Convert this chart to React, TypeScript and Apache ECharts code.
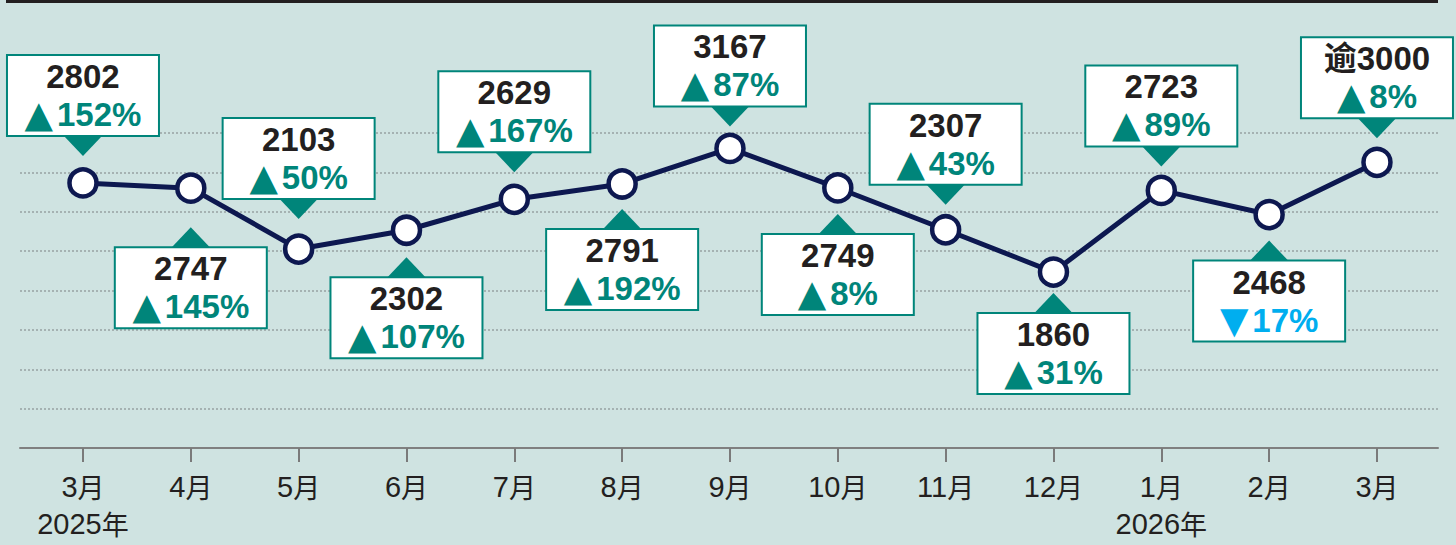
import React, { useEffect, useRef } from "react";
import * as echarts from "echarts";

const months = ["3月", "4月", "5月", "6月", "7月", "8月", "9月", "10月", "11月", "12月", "1月", "2月", "3月"];
const years = ["2025年", "", "", "", "", "", "", "", "", "", "2026年", "", ""];
const values = [2802, 2747, 2103, 2302, 2629, 2791, 3167, 2749, 2307, 1860, 2723, 2468, 3020];
const valueLabels = ["2802", "2747", "2103", "2302", "2629", "2791", "3167", "2749", "2307", "1860", "2723", "2468", "逾3000"];
const changes = [152, 145, 50, 107, 167, 192, 87, 8, 43, 31, 89, -17, 8];
// layout: distance from point centre to pointer tip
const labelGap = [27, 39, 30, 27, 27, 25, 22, 26, 25, 21, 24, 26, 24];

const TEAL = "#00857a";
const BLUE = "#00aeef";
const NAVY = "#0d1850";
const INK = "#231f20";
const BG = "#cfe3e1";

export default function App() {
  const ref = useRef<HTMLDivElement>(null);
  useEffect(() => {
    if (!ref.current) return;
    const chart = echarts.init(ref.current, null, { renderer: "svg" });
    const pts = values.map((v, i) => [i, v]);
    const tickVals = months.map((_, i) => i);
    chart.setOption({
      animation: false,
      backgroundColor: BG,
      grid: { left: 20, right: 18, top: 133, bottom: 97, containLabel: false },
      graphic: [
        { type: "rect", shape: { x: 6, y: 0, width: 1432, height: 3 }, style: { fill: INK } },
      ],
      xAxis: {
        type: "value",
        min: -0.584,
        max: 12.566,
        splitLine: { show: false },
        axisLine: { show: true, lineStyle: { color: "#808080", width: 2 } },
        axisTick: { show: true, customValues: tickVals, length: 14, lineStyle: { color: "#7a7a7a", width: 2 } },
        axisLabel: {
          customValues: tickVals,
          margin: 20,
          formatter: (val: number) => {
            const i = Math.round(val);
            const m = months[i].replace(/(\d+)(\D+)/, "{d|$1}{c|$2}");
            const y = years[i] ? "\n" + years[i].replace(/(\d+)(\D+)/, "{d|$1}{c|$2}") : "";
            return m + y;
          },
          rich: {
            d: { fontFamily: "'Liberation Sans Narrow', 'Liberation Sans'", fontSize: 29, color: INK, lineHeight: 37 },
            c: { fontFamily: "'Noto Sans CJK SC'", fontSize: 27, color: INK, lineHeight: 37 },
          },
        },
      },
      yAxis: [
        {
          type: "value",
          min: 0,
          max: 8,
          interval: 1,
          axisLine: { show: false },
          axisTick: { show: false },
          axisLabel: { show: false },
          splitLine: { show: true, lineStyle: { color: "#98a2a2", width: 1.5, type: [2, 2] } },
        },
        {
          type: "value",
          min: 0,
          max: 3330,
          axisLine: { show: false },
          axisTick: { show: false },
          axisLabel: { show: false },
          splitLine: { show: false },
        },
      ],
      series: [
        {
          type: "line",
          xAxisIndex: 0,
          yAxisIndex: 1,
          data: pts,
          z: 2,
          symbol: "circle",
          symbolSize: 27,
          lineStyle: { color: NAVY, width: 5 },
          itemStyle: { color: "#ffffff", borderColor: NAVY, borderWidth: 4.5 },
        },
        {
          type: "custom",
          xAxisIndex: 0,
          yAxisIndex: 1,
          data: pts,
          z: 5,
          encode: { x: 0, y: 1 },
          renderItem: (params: any, api: any) => {
            const i = params.dataIndex;
            const p = api.coord([api.value(0), api.value(1)]);
            const above = i % 2 === 0;
            const gap = labelGap[i];
            const triH = 19;
            const half = 19;
            const outerH = 83;
            let apex: number, base: number, outerTop: number, triBase: number;
            if (above) {
              apex = p[1] - gap;
              base = apex - triH;
              outerTop = base - outerH;
              triBase = base - 1;
            } else {
              apex = p[1] + gap;
              base = apex + triH;
              outerTop = base;
              triBase = base + 1;
            }
            const c = changes[i];
            const col = c >= 0 ? TEAL : BLUE;
            const pct = "{t|" + (c >= 0 ? "▲" : "▼") + "}{n|" + Math.abs(c) + "%}";
            return {
              type: "group",
              children: [
                {
                  type: "rect",
                  shape: { x: p[0] - 76, y: outerTop + 1, width: 152, height: outerH - 2 },
                  style: { fill: "#ffffff", stroke: TEAL, lineWidth: 2 },
                },
                {
                  type: "polygon",
                  shape: { points: [[p[0] - half, triBase], [p[0] + half, triBase], [p[0], apex]] },
                  style: { fill: TEAL },
                },
                {
                  type: "text",
                  x: p[0],
                  y: outerTop + 22.5,
                  style: {
                    text: valueLabels[i],
                    fill: INK,
                    font: "bold 33px 'Liberation Sans', 'Noto Sans CJK SC'",
                    align: "center",
                    verticalAlign: "middle",
                  },
                },
                {
                  type: "text",
                  x: p[0],
                  y: outerTop + 60.5,
                  style: {
                    text: pct,
                    align: "center",
                    verticalAlign: "middle",
                    rich: {
                      t: { fill: col, fontFamily: "'DejaVu Sans'", fontSize: 37, padding: [0, 4, 0, 0] },
                      n: { fill: col, fontFamily: "'Liberation Sans'", fontWeight: "bold", fontSize: 33 },
                    },
                  },
                },
              ],
            };
          },
        },
      ],
    });
    return () => chart.dispose();
  }, []);
  return (
    <div
      ref={ref}
      style={{ position: "fixed", left: 0, top: 0, width: 1456, height: 545 }}
    />
  );
}
